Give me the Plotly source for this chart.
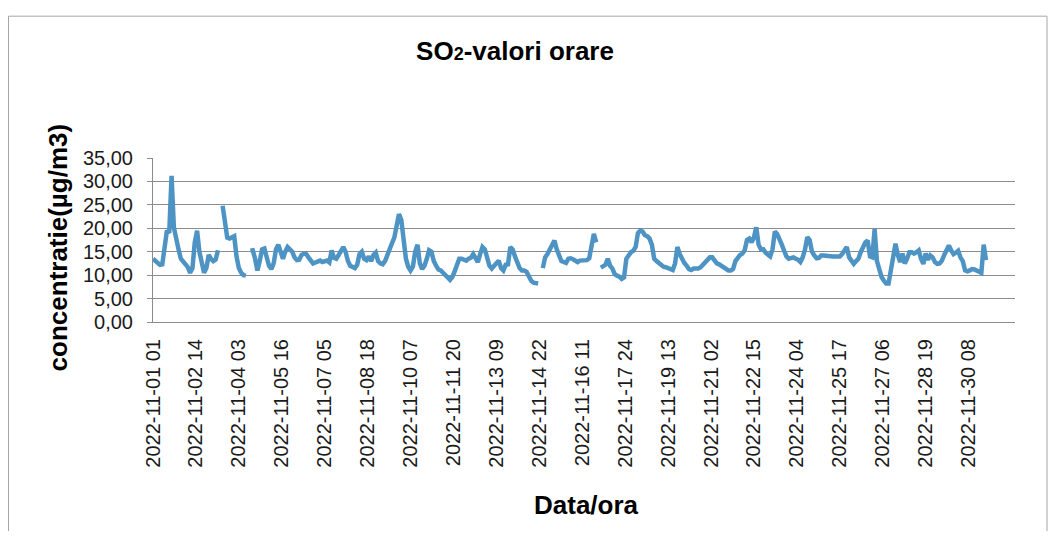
import pandas as pd
import plotly.graph_objects as go

# SO2 hourly concentration, sampled every 2 hours starting 2022-11-01 01:00 (None = missing data)
so2_values = [
    13.5, 13.0, 12.5, 12.2, 12.3, 15.5, 19.5, 19.0, 31.2, 20.2,
    17.3, 15.5, 13.5, 12.8, 12.5, 11.7, 10.5, 11.5, 17.0, 19.5,
    15.0, 12.5, 10.5, 11.5, 14.3, 13.5, 13.0, 13.3, 15.3, None,
    24.8, 21.5, 18.0, 17.8, 18.1, 18.3, 14.0, 11.5, 10.5, 10.0,
    9.9, None, 15.2, 15.3, 13.5, 11.0, 13.0, 15.5, 15.7, 13.5,
    12.0, 11.3, 12.5, 15.5, 16.5, 15.0, 13.5, 15.0, 16.0, 15.5,
    15.0, 13.8, 13.2, 13.3, 14.3, 14.6, 14.5, 13.8, 13.0, 12.5,
    12.7, 13.0, 13.1, 12.8, 13.0, 13.1, 12.7, 15.3, 13.7, 13.5,
    14.3, 15.3, 16.0, 15.0, 13.0, 12.0, 11.7, 11.5, 12.2, 14.5,
    15.0, 13.5, 13.2, 14.0, 13.0, 14.3, 14.8, 13.0, 12.5, 12.3,
    13.0, 14.5, 15.5, 16.8, 18.0, 20.5, 23.0, 21.8, 17.0, 13.5,
    11.8, 11.0, 11.8, 15.0, 16.5, 12.5, 11.3, 12.0, 13.5, 15.3,
    15.0, 13.0, 12.0, 11.2, 11.0, 10.4, 10.0, 9.5, 9.0, 9.6,
    10.8, 12.5, 13.5, 13.5, 13.3, 13.1, 13.5, 13.7, 14.5, 13.4,
    12.8, 14.5, 16.0, 15.5, 13.5, 12.0, 11.4, 12.0, 12.6, 13.1,
    11.5, 11.0, 12.2, 12.3, 16.0, 15.5, 14.0, 12.5, 11.5, 11.0,
    11.0, 10.7, 9.8, 8.8, 8.4, 8.2, 8.2, None, 11.5, 13.8,
    14.5, 15.5, 16.3, 17.4, 15.5, 14.0, 13.0, 12.8, 12.6, 13.5,
    13.6, 13.4, 13.1, 12.8, 13.1, 13.1, 13.1, 13.2, 13.6, 16.5,
    18.8, 17.0, None, 11.6, 11.8, 12.2, 13.5, 12.0, 11.4, 10.2,
    9.9, 9.7, 9.2, 9.5, 13.5, 14.3, 14.9, 15.2, 16.0, 19.0,
    19.5, 19.3, 18.5, 18.3, 17.8, 16.5, 13.5, 13.0, 12.6, 12.1,
    11.8, 11.7, 11.5, 11.4, 11.1, 12.5, 16.0, 14.5, 13.4, 12.6,
    12.0, 11.3, 11.1, 11.4, 11.4, 11.4, 11.7, 12.2, 12.8, 13.1,
    13.8, 13.8, 13.2, 12.5, 12.3, 12.0, 11.8, 11.5, 11.0, 11.0,
    11.3, 13.0, 13.8, 14.3, 14.6, 15.3, 17.5, 17.8, 17.0, 18.1,
    20.2, 16.5, 15.5, 15.5, 14.8, 14.5, 14.0, 15.5, 19.3, 18.8,
    17.8, 16.5, 15.2, 14.0, 13.5, 13.7, 13.8, 13.5, 13.3, 12.8,
    13.8, 15.5, 18.1, 17.5, 15.0, 14.2, 13.6, 13.7, 14.2, 14.2,
    14.1, 14.0, 13.9, 14.0, 14.0, 13.9, 14.0, 14.5, 15.5, 16.0,
    13.8, 13.0, 12.4, 13.0, 13.5, 14.9, 16.3, 17.0, 17.4, 14.0,
    13.8, 19.8, 13.0, 11.0, 9.6, 8.8, 8.2, 8.2, 11.0, 14.6,
    16.7, 14.3, 12.8, 14.6, 12.5, 13.5, 14.9, 14.9, 14.6, 14.9,
    15.3, 13.5, 12.4, 14.6, 13.3, 14.2, 13.8, 12.8, 12.4, 12.5,
    13.1, 14.3, 15.5, 16.3, 15.3, 14.5, 14.8, 15.2, 13.8, 13.0,
    11.0, 10.8, 11.0, 11.3, 11.2, 11.0, 10.7, 10.5, 16.5, 13.2,
]
start_time = "2022-11-01 01:00"
sample_step = "2h"
times = pd.date_range(start_time, periods=len(so2_values), freq=sample_step)

x_tick_labels = [
    "2022-11-01 01", "2022-11-02 14", "2022-11-04 03", "2022-11-05 16",
    "2022-11-07 05", "2022-11-08 18", "2022-11-10 07", "2022-11-11 20",
    "2022-11-13 09", "2022-11-14 22", "2022-11-16 11", "2022-11-17 24",
    "2022-11-19 13", "2022-11-21 02", "2022-11-22 15", "2022-11-24 04",
    "2022-11-25 17", "2022-11-27 06", "2022-11-28 19", "2022-11-30 08",
]
def label_to_time(lbl):
    d, h = lbl.split(" ")
    return pd.Timestamp(d) + pd.Timedelta(hours=int(h))
x_tick_vals = [label_to_time(l) for l in x_tick_labels]

y_tick_vals = [0, 5, 10, 15, 20, 25, 30, 35]
y_tick_labels = ["0,00", "5,00", "10,00", "15,00", "20,00", "25,00", "30,00", "35,00"]

x_range = ["2022-11-01 01:00", "2022-12-02 00:00"]

# page offset of the figure (browser body margin)
OFF = 8
W, H = 1056 - 2 * OFF, 539 - 2 * OFF
# plot area in page pixels: x 153..1015, y 157.5..321.7
PL, PR, PT, PB = 153, 1015, 157.5, 321.7
ML, MR, MT, MB = PL - OFF, W - (PR - OFF), PT - OFF, H - (PB - OFF)
PW, PH = W - ML - MR, H - MT - MB

def px_x(p):
    return (p - OFF - ML) / PW
def px_y(p):
    return (H - MB - (p - OFF)) / PH

FONT = "Liberation Sans, Arial, sans-serif"

fig = go.Figure()
fig.add_trace(go.Scatter(
    x=times, y=so2_values, mode="lines",
    line=dict(color="#4d94c4", width=4.5),
    connectgaps=False, showlegend=False,
))

fig.update_layout(
    width=W, height=H,
    margin=dict(l=ML, r=MR, t=MT, b=MB, pad=0),
    paper_bgcolor="white", plot_bgcolor="white",
    font=dict(family=FONT, color="#000000"),
    title=dict(
        text="<b>SO<span style='font-size:18px'>2</span>-valori orare</b>",
        x=(515 - OFF) / W, xref="container", xanchor="center",
        y=1 - (51 - OFF) / H, yref="container", yanchor="middle",
        font=dict(family=FONT, size=26, color="#000000"),
    ),
    xaxis=dict(
        type="date", range=x_range,
        tickmode="array", tickvals=x_tick_vals, ticktext=x_tick_labels,
        tickangle=-90, tickfont=dict(family=FONT, size=20, color="#1a1a1a"),
        showgrid=False, zeroline=False,
        showline=True, linecolor="#8c8c8c", linewidth=1,
        ticks="", ticklabelstandoff=8,
    ),
    yaxis=dict(
        range=[0, 35], tickmode="array", tickvals=y_tick_vals, ticktext=y_tick_labels,
        tickfont=dict(family=FONT, size=20, color="#1a1a1a"),
        showgrid=True, gridcolor="#8c8c8c", gridwidth=1,
        zeroline=False, showline=True, linecolor="#8c8c8c", linewidth=1,
        ticks="outside", ticklen=5, tickcolor="#8c8c8c", ticklabelstandoff=10,
    ),
    annotations=[
        dict(text="<b>concentratie(µg/m3)</b>", textangle=-90,
             x=px_x(58), y=px_y(247), xref="paper", yref="paper",
             xanchor="center", yanchor="middle", showarrow=False,
             font=dict(family=FONT, size=26, color="#000000")),
        dict(text="<b>Data/ora</b>",
             x=px_x(586), y=px_y(505), xref="paper", yref="paper",
             xanchor="center", yanchor="middle", showarrow=False,
             font=dict(family=FONT, size=26, color="#000000")),
    ],
    shapes=[
        dict(type="rect", xref="paper", yref="paper",
             x0=px_x(8.5), x1=px_x(1047), y0=px_y(560), y1=px_y(15.5),
             line=dict(color="#a6a6a6", width=1), fillcolor="rgba(0,0,0,0)",
             layer="below"),
    ],
)

fig.write_html("out.html")
